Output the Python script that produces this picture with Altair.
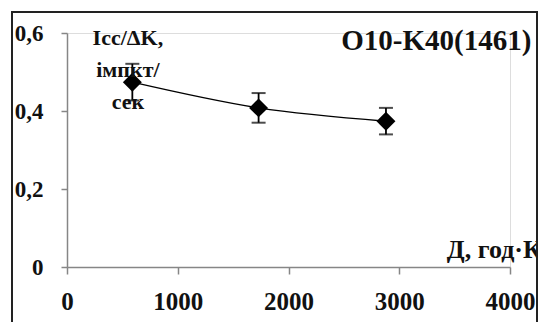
import altair as alt
import pandas as pd

# Measured series: dose (hour·K) vs normalised count rate with its error
dose = [590, 1730, 2880]
rate = [0.474, 0.408, 0.374]
err = [0.047, 0.038, 0.034]

x_ticks = [0, 1000, 2000, 3000, 4000]
y_ticks = [0, 0.2, 0.4, 0.6]

title_text = "O10-K40(1461)"
y_title_lines = ["Icc/ΔK,", "імпкт/", "сек"]
x_title_text = "Д, год·К"

FONT = "Liberation Serif"
AXIS_GRAY = "#868686"

df = pd.DataFrame({"dose": dose, "rate": rate, "err": err})
df["lo"] = df["rate"] - df["err"]
df["hi"] = df["rate"] + df["err"]

x_scale = alt.Scale(domain=[0, 4000], nice=False)
y_scale = alt.Scale(domain=[0, 0.6], nice=False)

x_axis = alt.Axis(
    values=x_ticks, title=None, grid=False, format="d",
    domainColor=AXIS_GRAY, domainWidth=1.5,
    tickColor=AXIS_GRAY, tickWidth=1.5, tickSize=7,
    labelFont=FONT, labelFontSize=25, labelFontWeight="bold", labelColor="#111",
    labelPadding=15, labelFlush=False, labelOverlap=False, labelBound=False,
)
y_axis = alt.Axis(
    values=y_ticks, title=None, grid=False,
    domainColor=AXIS_GRAY, domainWidth=1.5,
    tickColor=AXIS_GRAY, tickWidth=1.5, tickSize=6,
    labelFont=FONT, labelFontSize=23, labelFontWeight="bold", labelColor="#111",
    labelPadding=18, labelFlush=False, labelOverlap=False, labelBound=False,
    labelExpr="datum.value == 0 ? '0' : replace(format(datum.value, '.1f'), '.', ',')",
)

base = alt.Chart(df)

# outer frame of the chart box
frame = base.mark_rect(fill=None, stroke="#222", strokeWidth=2).encode(
    x=alt.value(-55), x2=alt.value(470), y=alt.value(-21), y2=alt.value(320)
)
# white strip outside the right edge of the frame
margin = base.mark_rect(fill="white", stroke=None).encode(
    x=alt.value(471), x2=alt.value(480), y=alt.value(-33), y2=alt.value(320)
)

trend = base.mark_line(color="#000", strokeWidth=1.5, interpolate="monotone").encode(
    x=alt.X("dose:Q", scale=x_scale, axis=x_axis),
    y=alt.Y("rate:Q", scale=y_scale, axis=y_axis),
)

bars = base.mark_rule(color="#000", strokeWidth=1.8).encode(
    x="dose:Q", y="lo:Q", y2="hi:Q"
)
cap_lo = base.mark_tick(color="#000", orient="horizontal", size=14, thickness=2).encode(
    x="dose:Q", y="lo:Q"
)
cap_hi = base.mark_tick(color="#000", orient="horizontal", size=14, thickness=2).encode(
    x="dose:Q", y="hi:Q"
)

points = base.mark_point(shape="diamond", filled=True, color="#000", opacity=1, size=360).encode(
    x="dose:Q", y="rate:Q"
)

y_title = alt.Chart().mark_text(
    font=FONT, fontSize=22, fontWeight="bold", color="#111",
    align="center", baseline="alphabetic", lineHeight=32,
).encode(
    x=alt.datum(550, scale=x_scale), y=alt.datum(0.569, scale=y_scale),
    text=alt.value(y_title_lines),
)

main_title = alt.Chart().mark_text(
    font=FONT, fontSize=29, fontWeight="bold", color="#111",
    align="center", baseline="alphabetic",
).encode(
    x=alt.datum(3335, scale=x_scale), y=alt.datum(0.556, scale=y_scale),
    text=alt.value(title_text),
)

x_title = alt.Chart().mark_text(
    font=FONT, fontSize=26, fontWeight="bold", color="#111",
    align="left", baseline="alphabetic",
).encode(
    x=alt.datum(3430, scale=x_scale), y=alt.datum(0.023, scale=y_scale),
    text=alt.value(x_title_text),
)

chart = alt.layer(
    trend, bars, cap_lo, cap_hi, points, y_title, main_title, x_title, margin, frame
).properties(
    width=443, height=234,
    autosize=alt.AutoSizeParams(type="none"),
    padding={"left": 67, "top": 33, "right": 30, "bottom": 55},
).configure_view(stroke=None).configure(background="white")

chart.save("out.html", embed_options={"renderer": "svg", "actions": False})
